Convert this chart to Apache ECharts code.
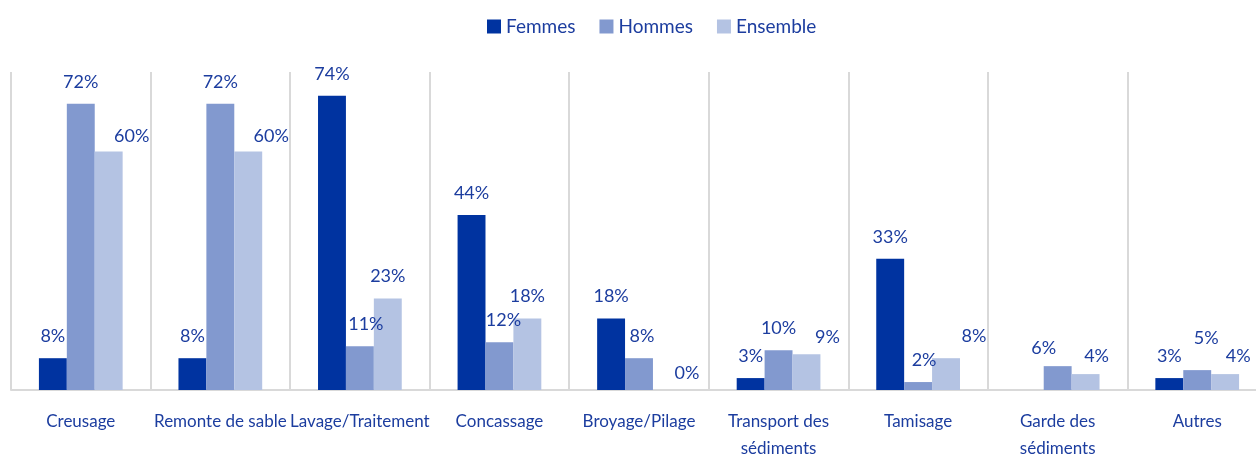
<!DOCTYPE html>
<html>
<head>
<meta charset="utf-8">
<script src="https://cdn.jsdelivr.net/npm/echarts@6/dist/echarts.min.js"></script>
<style>
    html, body { margin: 0; padding: 0; background: #fff; }
    #chart { width: 1256px; height: 455px; }
</style>
</head>
<body>
<div id="chart"></div>
<script>
// activités - part en %
var categories = ['Creusage', 'Remonte de sable', 'Lavage/Traitement', 'Concassage', 'Broyage/Pilage',
    'Transport des\nsédiments', 'Tamisage', 'Garde des\nsédiments', 'Autres'];
var femmes = [8, 8, 74, 44, 18, 3, 33, null, 3];
var hommes = [72, 72, 11, 12, 8, 10, 2, 6, 5];
var ensemble = [60, 60, 23, 18, 0, 9, 8, 4, 4];

// petits decalages des etiquettes (comme dans le graphique d'origine)
var shiftHommes = [[0, 0], [0, 0], [6, 0], [4, 0], [3, 0], [0, 0], [6, 0], [-14, 4], [9, -10]];
var shiftEnsemble = [[23, 7], [23, 7], [0, 0], [0, 0], [20, 5], [21, 5], [28, 0], [11, 4], [13, 4]];

var textColor = '#1c3d9f';
var font = 'Lato, "Open Sans", sans-serif';

function withShift(values, shifts) {
    return values.map(function (v, i) {
        var s = shifts ? shifts[i] : [0, 0];
        return { value: v, label: { offset: s } };
    });
}

function makeSeries(name, color, values, shifts) {
    return {
        name: name,
        type: 'bar',
        barGap: 0,
        barCategoryGap: '40%',
        itemStyle: { color: color },
        label: {
            show: true,
            position: 'top',
            distance: 13,
            color: textColor,
            fontFamily: font,
            fontSize: 18,
            formatter: function (p) { return p.value == null ? '' : p.value + '%'; }
        },
        data: withShift(values, shifts)
    };
}

var chart = echarts.init(document.getElementById('chart'));
var option = {
    animation: false,
    legend: {
        top: 12,
        left: 482,
        icon: 'rect',
        itemWidth: 14,
        itemHeight: 14,
        itemGap: 24,
        textStyle: { color: textColor, fontFamily: font, fontSize: 19 },
        data: ['Femmes', 'Hommes', 'Ensemble']
    },
    grid: {
        left: 11,
        top: 72,
        width: 1256,
        height: 318,
        outerBoundsMode: 'none',
        containLabel: false
    },
    xAxis: {
        type: 'category',
        data: categories,
        axisLine: { lineStyle: { color: '#d9d9d9', width: 2 } },
        axisTick: { show: false },
        splitLine: { show: true, interval: 0, lineStyle: { color: '#d9d9d9', width: 2 } },
        axisLabel: {
            interval: 0,
            margin: 18,
            color: textColor,
            fontFamily: font,
            fontSize: 17,
            lineHeight: 27
        }
    },
    yAxis: {
        type: 'value',
        min: 0,
        max: 80,
        show: false,
        splitLine: { show: false }
    },
    series: [
        makeSeries('Femmes', '#0033a0', femmes, null),
        makeSeries('Hommes', '#8299cf', hommes, shiftHommes),
        makeSeries('Ensemble', '#b4c3e3', ensemble, shiftEnsemble)
    ]
};
chart.setOption(option);
</script>
</body>
</html>
